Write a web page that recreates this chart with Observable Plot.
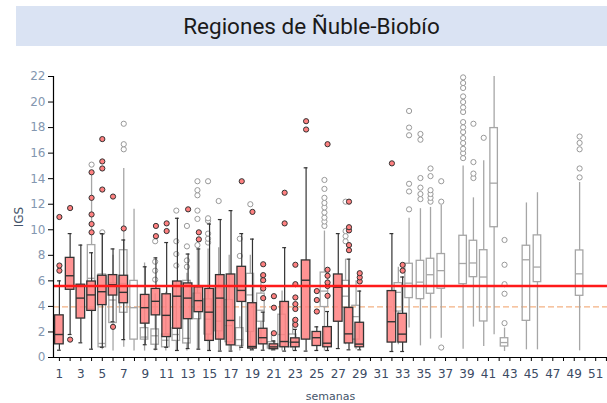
<!DOCTYPE html>
<html>
<head>
<meta charset="utf-8">
<script src="https://cdn.jsdelivr.net/npm/d3@7"></script>
<script src="https://cdn.jsdelivr.net/npm/@observablehq/plot@0.6"></script>
<style>
  body { margin: 0; background: white; width: 607px; height: 403px; position: relative; overflow: hidden; }
  #titulo {
    position: absolute; left: 16px; top: 6px; width: 591px; height: 40px;
    background: #dae3f3; text-align: center; line-height: 40px;
    font-family: Roboto, sans-serif; font-size: 22.5px; color: #1a1a1a;
  }
  #chart { position: absolute; left: 0; top: 50px; }
</style>
</head>
<body>
<div id="titulo">Regiones de Ñuble-Biobío</div>
<div id="chart"></div>
<script>
// --- semanas con datos del año (cajas rojas)
const semanasRojo = [1, 2, 3, 4, 5, 6, 7, 9, 10, 11, 12, 13, 14, 15, 16, 17, 18, 19, 20, 21, 22, 23, 24, 25, 26, 27, 28, 29, 32, 33]
const minRojo = [0.57, 1.8, 1.15, 0.65, 0.8, 2.8, 1.4, 1.0, 0.65, 0.8, 0.55, 0.7, 0.65, 0.55, 0.5, 0.5, 0.8, 0.6, 0.57, 0.6, 0.5, 0.55, 0.5, 0.55, 0.55, 0.7, 0.6, 0.6, 0.47, 0.47]
const q1Rojo  = [1.03, 5.3, 3.05, 3.65, 4.1, 4.85, 4.25, 2.65, 3.3, 1.6, 2.25, 3.0, 3.55, 1.3, 1.4, 0.95, 4.35, 0.7, 1.03, 0.65, 0.8, 0.8, 1.4, 0.9, 0.8, 2.8, 1.1, 0.8, 1.17, 1.17]
const medRojo = [1.8, 6.4, 4.65, 4.9, 5.15, 5.7, 5.1, 3.9, 4.4, 3.3, 4.8, 4.65, 4.45, 3.55, 4.65, 2.9, 5.25, 0.86, 1.55, 0.83, 1.25, 1.2, 6.05, 1.55, 1.12, 5.5, 1.85, 1.05, 2.8, 1.83]
const q3Rojo  = [3.3, 7.8, 5.7, 5.95, 6.4, 6.45, 6.4, 4.9, 5.37, 4.95, 5.95, 5.8, 5.5, 5.37, 6.45, 6.5, 7.1, 4.25, 2.25, 1.03, 4.35, 1.5, 7.6, 2.0, 2.38, 6.5, 3.88, 2.72, 5.2, 3.42]
const maxRojo = [6.0, 9.7, 8.8, 8.2, 9.7, 8.5, 9.2, 7.1, 7.8, 9.0, 10.9, 8.1, 8.5, 10.45, 10.8, 11.5, 9.7, 9.27, 3.55, 1.3, 8.6, 2.2, 14.85, 2.4, 3.6, 9.7, 7.7, 5.2, 9.7, 6.3]
const atipRojo = [
  [6.8, 7.2, 11.0], [1.4, 11.7], [], [9.8, 10.45, 11.2, 12.5, 14.5], [13.15, 14.8, 15.35, 17.1],
  [2.4, 12.6], [10.1], [], [9.5, 10.3], [9.9, 10.5], [], [11.6], [9.25, 9.8], [], [], [], [13.8],
  [11.4], [4.65, 5.4, 6.05, 6.45, 7.3], [1.9, 3.9, 4.8], [10.5, 12.9], [2.56, 2.95, 3.8, 4.18, 4.7, 5.74, 7.26],
  [17.85, 18.5], [3.6, 4.5, 5.2], [4.83, 5.6, 5.87, 6.4, 6.87, 16.7], [], [8.4, 8.8, 9.95, 10.2, 12.2],
  [5.95, 6.27, 6.6], [15.2], [6.8, 7.25]
]

// --- histórico (cajas grises), posiciones leídas sobre el eje de semanas
const posHist = [4.0, 5.0, 6.0, 7.0, 7.96, 8.94, 9.93, 10.92, 11.9, 12.89, 13.87, 14.86, 15.85, 16.83, 17.82, 18.8, 19.79, 20.78, 21.76, 22.75, 25.71, 27.68, 28.66, 32.6, 33.6, 34.66, 35.6, 36.6, 38.64, 39.6, 40.56, 41.53, 42.5, 44.54, 45.57, 49.5]
const minHist = [0.6, 0.6, 0.5, 0.8, 0.5, 0.5, 0.5, 0.5, 0.5, 0.5, 0.6, 0.5, 0.5, 0.5, 0.5, 0.5, 1.0, 0.5, 0.5, 0.5, 0.5, 1.0, 0.6, 1.0, 2.3, 0.91, 1.44, 1.5, 0.65, 2.38, 0.86, 1.78, 0.47, 0.6, 0.6, 0.52]
const q1Hist  = [3.8, 0.8, 2.7, 3.5, 1.4, 1.4, 1.0, 0.8, 1.3, 1.1, 3.0, 1.8, 2.05, 1.2, 0.9, 2.0, 2.8, 0.7, 0.86, 0.8, 3.95, 3.9, 1.4, 3.6, 4.65, 4.57, 4.99, 5.38, 5.74, 6.29, 2.82, 10.2, 0.86, 2.87, 5.9, 4.83]
const medHist = [6.2, 1.1, 4.5, 5.8, 3.9, 1.6, 1.7, 1.35, 1.8, 1.5, 3.6, 3.0, 2.85, 2.5, 1.4, 4.9, 3.7, 0.9, 1.8, 1.2, 5.2, 4.8, 3.2, 5.1, 5.82, 5.9, 6.48, 6.8, 7.36, 7.4, 6.3, 13.65, 1.17, 7.65, 7.08, 6.55]
const q3Hist  = [8.8, 6.5, 5.8, 8.4, 6.0, 2.3, 2.2, 1.8, 2.3, 6.0, 5.0, 4.55, 5.4, 4.5, 2.3, 6.55, 5.0, 1.2, 3.35, 1.8, 6.65, 6.0, 4.05, 5.82, 7.34, 7.57, 7.73, 8.1, 9.53, 9.14, 8.4, 17.96, 1.51, 8.75, 9.56, 8.38]
const maxHist = [14.5, 9.7, 8.0, 14.8, 11.6, 7.4, 5.0, 5.1, 6.0, 6.6, 8.5, 8.5, 8.6, 8.0, 3.2, 8.0, 6.5, 2.0, 5.2, 3.0, 9.9, 7.7, 6.0, 7.07, 10.9, 11.65, 11.75, 11.9, 15.0, 12.5, 15.4, 22, 2.3, 12.1, 12.9, 13.7]
const atipHist = [
  [15.1], [9.8], [], [16.3, 16.7, 18.3], [], [], [6.1, 6.8, 7.5, 9.1], [], [7.2, 8.1, 9.1, 11.5],
  [7.1, 7.6, 8.7, 10.3], [8.8, 10.85, 11.5, 12.7, 13.1, 13.8], [9.0, 9.3, 9.7, 10.7, 10.9, 13.8], [12.25], [],
  [7.95, 9.3], [12.0], [], [], [], [],
  [10.3, 10.65, 10.95, 11.35, 11.75, 12.1, 12.5, 13.2, 13.9], [9.1, 9.5, 9.9, 12.2], [], [],
  [11.6, 13.0, 13.6, 17.4, 18.0, 19.3], [12.4, 12.8, 13.3, 14.05, 17.05, 17.5], [12.2, 12.5, 12.8, 13.1, 14.2, 14.8],
  [0.78, 12.2, 13.8],
  [15.61, 16.0, 16.34, 16.79, 17.18, 17.65, 18.02, 18.43, 19.22, 19.58, 20.0, 20.44, 21.1, 21.49, 21.93],
  [14.05, 14.4, 15.3, 18.3], [17.2], [], [2.69, 4.99, 5.74, 7.26, 9.2], [], [], [14.1, 14.8, 16.3, 16.8, 17.3]
]

// umbrales
const umbralAlerta = 5.6
const umbralBasal = 3.96

const semanasEje = d3.range(1, 53)
const yTicks = d3.range(0, 23, 2)
const xDomain = [0.45, 52.1]

// tablas para Plot
const rojo = semanasRojo.map((x, i) => ({x, lo: minRojo[i], q1: q1Rojo[i], med: medRojo[i], q3: q3Rojo[i], hi: maxRojo[i]}))
const rojoAtip = semanasRojo.flatMap((x, i) => atipRojo[i].map(v => ({x, v})))
const hist = posHist.map((x, i) => ({x, lo: minHist[i], q1: q1Hist[i], med: medHist[i], q3: q3Hist[i], hi: maxHist[i]}))
const histAtip = posHist.flatMap((x, i) => atipHist[i].map(v => ({x, v})))

const gris = "#a6a6a6"
const oscuro = "#333"

let chart = Plot.plot({
  width: 607,
  height: 353,
  marginLeft: 53,
  marginRight: 0,
  marginTop: 26,
  marginBottom: 46,
  style: {fontFamily: "DejaVu Sans, sans-serif", fontSize: "12px", background: "white"},
  x: {domain: xDomain},
  y: {domain: [0, 22]},
  marks: [
    Plot.ruleY([umbralBasal], {stroke: "#f4b183", strokeWidth: 1.4, strokeDasharray: "6,3"}),

    // histórico
    Plot.ruleX(hist, {x: "x", y1: "lo", y2: "q1", stroke: gris, strokeWidth: 1.3}),
    Plot.ruleX(hist, {x: "x", y1: "q3", y2: "hi", stroke: gris, strokeWidth: 1.3}),
    Plot.rect(hist, {x1: d => d.x - 0.35, x2: d => d.x + 0.35, y1: "q1", y2: "q3", fill: "none", stroke: gris, strokeWidth: 1.3}),
    Plot.ruleY(hist, {y: "med", x1: d => d.x - 0.35, x2: d => d.x + 0.35, stroke: gris, strokeWidth: 1.3}),
    Plot.dot(histAtip, {x: "x", y: "v", r: 2.6, fill: "white", stroke: "#999", strokeWidth: 1}),

    // año actual
    Plot.ruleX(rojo, {x: "x", y1: "lo", y2: "q1", stroke: oscuro, strokeWidth: 1.2}),
    Plot.ruleX(rojo, {x: "x", y1: "q3", y2: "hi", stroke: oscuro, strokeWidth: 1.2}),
    Plot.ruleY(rojo, {y: "lo", x1: d => d.x - 0.18, x2: d => d.x + 0.18, stroke: oscuro, strokeWidth: 1.2}),
    Plot.ruleY(rojo, {y: "hi", x1: d => d.x - 0.18, x2: d => d.x + 0.18, stroke: oscuro, strokeWidth: 1.2}),
    Plot.rect(rojo, {x1: d => d.x - 0.4, x2: d => d.x + 0.4, y1: "q1", y2: "q3", fill: "#ff8080", fillOpacity: 0.85, stroke: oscuro, strokeWidth: 1.3}),
    Plot.ruleY(rojo, {y: "med", x1: d => d.x - 0.4, x2: d => d.x + 0.4, stroke: oscuro, strokeWidth: 1.4}),
    Plot.dot(rojoAtip, {x: "x", y: "v", r: 2.6, fill: "#ff8080", stroke: oscuro, strokeWidth: 1}),

    Plot.ruleY([umbralAlerta], {stroke: "#ff1a1a", strokeWidth: 2.4}),

    // ejes
    Plot.ruleY([0], {stroke: "black", strokeWidth: 1.2}),
    Plot.ruleX([xDomain[0]], {y1: 0, y2: 22, stroke: "black", strokeWidth: 1.2}),
    Plot.axisY({ticks: yTicks, tickSize: 5, tickPadding: 3, stroke: "black", color: "#8497b0", label: null}),
    Plot.axisY({ticks: [], label: "IGS", labelAnchor: "center", labelArrow: "none", labelOffset: 39, color: "#44546a"}),
    Plot.axisX({ticks: semanasEje, tickFormat: d => d % 2 ? d : "", tickSize: 4, tickPadding: 8, stroke: "black", color: "#3b4a63", label: null}),
    Plot.axisX({ticks: [], label: "semanas", labelAnchor: "center", labelArrow: "none", labelOffset: 42, color: "#44546a", fontSize: 11})
  ]
})

d3.select('#chart').append(() => chart)
</script>
</body>
</html>
